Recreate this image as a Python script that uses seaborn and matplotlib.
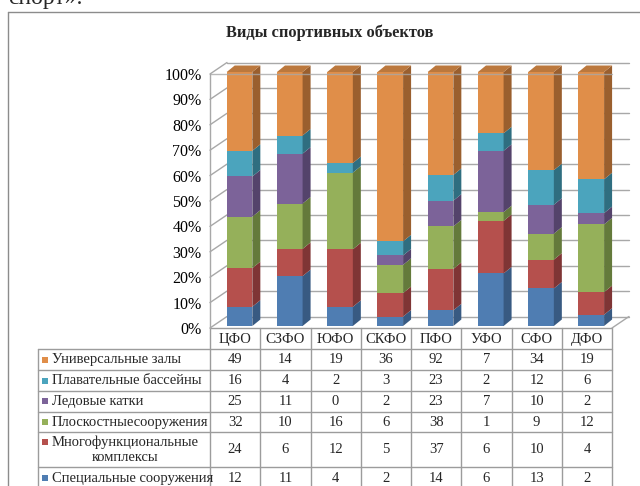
import numpy as np
import pandas as pd
import matplotlib
matplotlib.use("Agg")
from matplotlib import pyplot as plt
from matplotlib.transforms import ScaledTranslation
import seaborn as sns

# Данные (количество объектов по округам)
regions = ["ЦФО", "СЗФО", "ЮФО", "СКФО", "ПФО", "УФО", "СФО", "ДФО"]
special = [12, 11, 4, 2, 14, 6, 13, 2]
multi = [24, 6, 12, 5, 37, 6, 10, 4]
planar = [32, 10, 16, 6, 38, 1, 9, 12]
ice = [25, 11, 0, 2, 23, 7, 10, 2]
pools = [16, 4, 2, 3, 23, 2, 12, 6]
universal = [49, 14, 19, 36, 92, 7, 34, 19]

# порядок снизу вверх
series_names = ["Специальные сооружения", "Многофункциональные\nкомплексы",
                "Плоскостныесооружения", "Ледовые катки",
                "Плавательные бассейны", "Универсальные залы"]
series_values = [special, multi, planar, ice, pools, universal]

front_colors = ["#4F7DB2", "#B5504D", "#95B05A", "#7C6399", "#4BA4BD", "#E08E49"]
side_colors = ["#385A82", "#7F3535", "#647A3B", "#54436B", "#2F6E80", "#9A5F2E"]
top_color = "#BB783D"
grid_color = "#a8a8a8"

df = pd.DataFrame(series_values, index=series_names, columns=regions)
pct = df / df.sum() * 100
cum = pct.cumsum(axis=0)

sns.set_theme(style="white")
plt.rcParams["font.family"] = ["Liberation Serif", "DejaVu Serif"]

W, H, DPI = 640, 486, 100
fig = plt.figure(figsize=(W / DPI, H / DPI), dpi=DPI)
fig.patch.set_facecolor("white")

# передняя плоскость графика в пикселях
L, R, T, B = 210, 612, 74, 328
ax = fig.add_axes([L / W, 1 - B / H, (R - L) / W, (B - T) / H])
ax.patch.set_alpha(0)

px_x = len(regions) / (R - L)
px_y = 100 / (B - T)
bar_w = 0.51
wall_dx, wall_dy = 17 * px_x, 11.5 * px_y   # глубина стенок
bar_dx, bar_dy = 8 * px_x, 6.5 * px_y       # глубина столбцов

# столбцы: рисуем накопленные значения сверху вниз
for i in reversed(range(len(series_names))):
    sns.barplot(x=regions, y=cum.iloc[i].values, color=front_colors[i],
                saturation=1, width=bar_w, linewidth=0, errorbar=None,
                ax=ax, zorder=2)

off = ax.transData + ScaledTranslation(4.4 / DPI, 2 / DPI, fig.dpi_scale_trans)
for p in ax.patches:
    p.set_transform(off)
    p.set_clip_on(False)

# боковые и верхние грани
for j in range(len(regions)):
    xr = j + bar_w / 2
    xl = j - bar_w / 2
    for i in range(len(series_names)):
        y0 = 0 if i == 0 else cum.iloc[i - 1, j]
        y1 = cum.iloc[i, j]
        ax.fill([xr, xr + bar_dx, xr + bar_dx, xr],
                [y0, y0 + bar_dy, y1 + bar_dy, y1],
                color=side_colors[i], lw=0, transform=off, clip_on=False, zorder=2)
    ax.fill([xl, xr, xr + bar_dx, xl + bar_dx],
            [100, 100, 100 + bar_dy, 100 + bar_dy],
            color=top_color, lw=0, transform=off, clip_on=False, zorder=2)

# стенки и сетка
ticks = list(range(0, 101, 10))
x0, x1 = -0.5, len(regions) - 0.5
for v in ticks:
    ax.plot([x0, x0 + wall_dx], [v, v + wall_dy], color=grid_color, lw=1,
            clip_on=False, zorder=1)
    ax.plot([x0 + wall_dx, x1 + wall_dx], [v + wall_dy, v + wall_dy],
            color=grid_color, lw=1, clip_on=False, zorder=1)
ax.plot([x0, x0], [0, 100], color=grid_color, lw=1, clip_on=False, zorder=1)
ax.plot([x1, x1 + wall_dx], [0, wall_dy], color=grid_color, lw=1, clip_on=False, zorder=1)
ax.plot([x0, x1], [100, 100], color=grid_color, lw=1, alpha=0.8, clip_on=False, zorder=5)

ax.set_xlim(x0, x1)
ax.set_ylim(0, 100)
for s in ax.spines.values():
    s.set_visible(False)
ax.set_xticks([])
ax.set_yticks(ticks)
ax.set_yticklabels([f"{v}%" for v in ticks])
ax.tick_params(axis="y", length=0, pad=6, labelsize=11.5, labelcolor="black")
ax.set_xlabel("")
ax.set_ylabel("")

# слой с таблицей и рамкой (в пикселях)
tab = fig.add_axes([0, 0, 1, 1], zorder=-1)
tab.set_xlim(0, W)
tab.set_ylim(H, 0)
tab.axis("off")

# хвост текста документа над диаграммой (обрезан краем, как в оригинале)
tab.text(8, 4, "спорт».", fontsize=17, va="baseline", ha="left")
tab.plot([8, 8], [12.5, H], color="#8c8c8c", lw=1)
tab.plot([8, W], [12.5, 12.5], color="#8c8c8c", lw=1)

fig.text(330 / W, 1 - 33 / H, "Виды спортивных объектов", fontsize=11.8,
         fontweight="bold", ha="center", va="center")

col_x = np.linspace(L, R, len(regions) + 1)
row_y = [349, 370, 391, 411.7, 432.3, 466.7, 490]
line_c = "#9c9c9c"
tab.plot([L, R], [B, B], color=line_c, lw=1)
for y in row_y[:-1]:
    tab.plot([38, R], [y, y], color=line_c, lw=1)
for x in col_x:
    tab.plot([x, x], [B, row_y[-1]], color=line_c, lw=1)
tab.plot([38, 38], [row_y[0], row_y[-1]], color=line_c, lw=1)

centers = (col_x[:-1] + col_x[1:]) / 2
for cx, name in zip(centers, regions):
    tab.text(cx, (B + row_y[0]) / 2 + 0.5, name, fontsize=10.5, ha="center", va="center")

table_rows = list(reversed(range(len(series_names))))
for r, i in enumerate(table_rows):
    yc = (row_y[r] + row_y[r + 1]) / 2
    name = series_names[i]
    marker_y = yc if "\n" not in name else yc - 7.5
    tab.add_patch(plt.Rectangle((42, marker_y - 3), 6, 6, color=front_colors[i], lw=0))
    tab.text(51.5, yc, name, fontsize=10.5, ha="left", va="center",
             multialignment="center", linespacing=1.15)
    for cx, val in zip(centers, df.iloc[i].values):
        tab.text(cx, yc, str(val), fontsize=10.5, ha="center", va="center")

fig.savefig("out.png", dpi=DPI)
